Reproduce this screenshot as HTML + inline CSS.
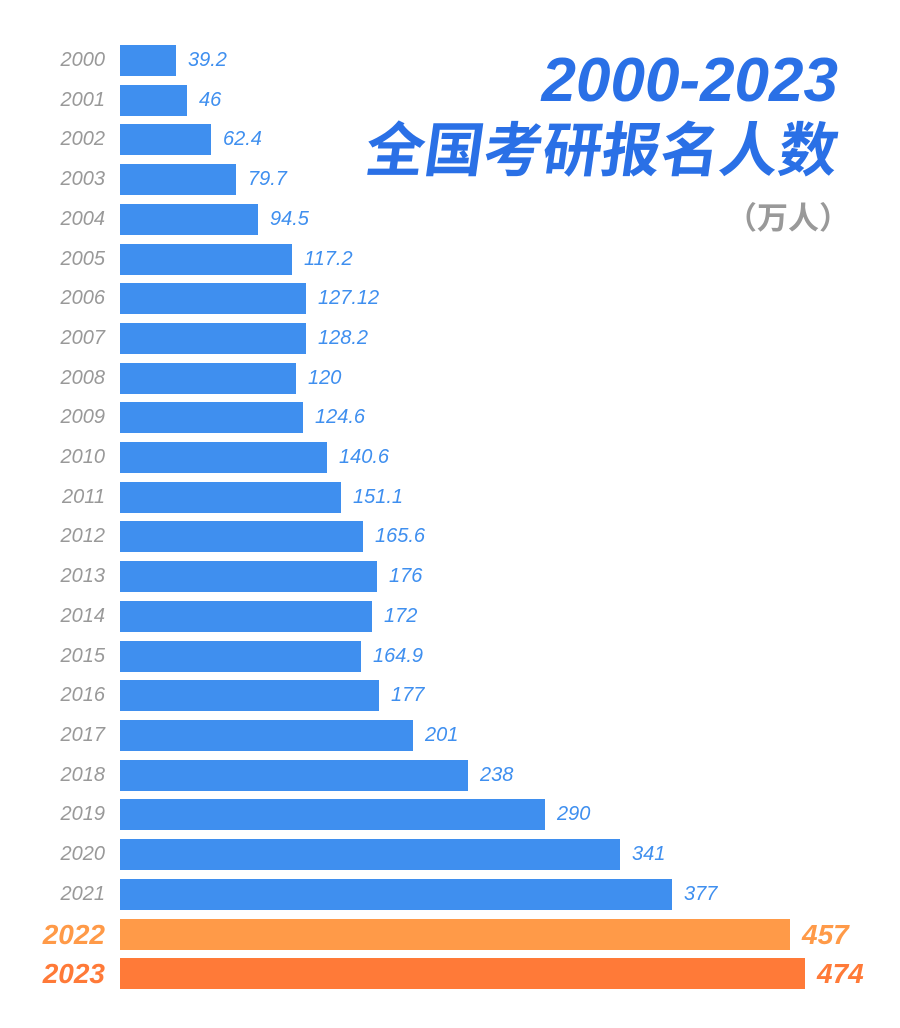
<!DOCTYPE html><html><head><meta charset="utf-8"><style>
body{margin:0;width:900px;height:1028px;background:#fff;position:relative;overflow:hidden;font-family:"Liberation Sans","Noto Sans CJK SC",sans-serif}
.b{position:absolute;left:120px;height:31px;background:#3f8fef}
.y{position:absolute;width:105px;left:0;text-align:right;font-style:italic;color:#999;font-size:20px;line-height:31px}
.v{position:absolute;font-style:italic;color:#3f8fef;font-size:20px;line-height:31px}
.t{position:absolute;right:62px;font-style:italic;font-weight:bold;color:#2a70e6;white-space:nowrap}
</style></head><body>
<div class="t" style="top:48px;font-size:62px;line-height:66px">2000-2023</div>
<div class="t" style="top:116px;font-size:59px;line-height:70px;font-style:normal;transform:skewX(-8deg)">全国考研报名人数</div>
<div class="t" style="top:198px;font-size:31px;line-height:42px;color:#999;font-style:normal;right:50px">（万人）</div>
<div id="c"></div>
<script>
var d=[[2000,39.2,176],[2001,46,187],[2002,62.4,211],[2003,79.7,236],[2004,94.5,258],[2005,117.2,292],[2006,127.12,306],[2007,128.2,306],[2008,120,296],[2009,124.6,303],[2010,140.6,327],[2011,151.1,341],[2012,165.6,363],[2013,176,377],[2014,172,372],[2015,164.9,361],[2016,177,379],[2017,201,413],[2018,238,468],[2019,290,545],[2020,341,620],[2021,377,672],[2022,457,790],[2023,474,805]];
var h='';
d.forEach(function(r,i){
var top=i<22?45+i*39.7:(i==22?919:958);
var o=i>=22,col=i==22?'#ff9a48':'#ff7a38';
h+='<div class="b" style="top:'+top+'px;width:'+(r[2]-120)+'px;'+(o?'background:'+col:'')+'"></div>';
h+='<div class="y" style="top:'+top+'px;'+(o?'color:'+col+';font-weight:bold;font-size:28px':'')+'">'+r[0]+'</div>';
h+='<div class="v" style="top:'+top+'px;left:'+(r[2]+12)+'px;'+(o?'color:'+col+';font-weight:bold;font-size:28px':'')+'">'+r[1]+'</div>';
});
document.getElementById('c').innerHTML=h;
</script>
</body></html>
